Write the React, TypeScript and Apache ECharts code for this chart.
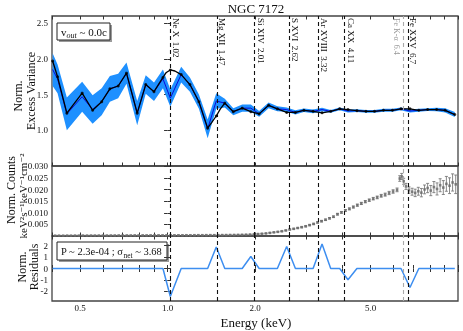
import React, { useEffect, useRef } from "react";
import * as echarts from "echarts";

// ---------------- data ----------------
const binEnergy = [0.402, 0.418, 0.45, 0.508, 0.552, 0.593, 0.633, 0.676, 0.722, 0.786,
  0.841, 0.898, 0.964, 1.022, 1.114, 1.194, 1.282, 1.374, 1.471, 1.574,
  1.684, 1.807, 1.935, 2.067, 2.228, 2.388, 2.571, 2.755, 2.946, 3.17,
  3.403, 3.645, 3.914, 4.18, 4.487, 4.819, 5.159, 5.538, 5.945, 6.363,
  6.834, 7.33, 7.86, 8.44, 9.03, 9.75];
const excessVar = [1.85, 1.72, 1.23, 1.47, 1.29, 1.4, 1.58, 1.62, 1.8, 1.24,
  1.64, 1.54, 1.72, 1.45, 1.78, 1.64, 1.4, 1.02, 1.41, 1.38,
  1.26, 1.31, 1.31, 1.23, 1.35, 1.3, 1.29, 1.25, 1.28, 1.265,
  1.29, 1.265, 1.3, 1.27, 1.275, 1.265, 1.265, 1.28, 1.28, 1.3,
  1.27, 1.28, 1.29, 1.29, 1.28, 1.22];
const excessVarErr = [0.23, 0.2, 0.23, 0.21, 0.2, 0.19, 0.18, 0.17, 0.15, 0.17,
  0.13, 0.13, 0.13, 0.12, 0.11, 0.1, 0.1, 0.13, 0.11, 0.06,
  0.05, 0.05, 0.05, 0.04, 0.04, 0.035, 0.03, 0.03, 0.025, 0.025,
  0.025, 0.02, 0.02, 0.02, 0.02, 0.02, 0.02, 0.02, 0.02, 0.02,
  0.02, 0.02, 0.02, 0.025, 0.03, 0.035];
const modelAtBins = [1.97, 1.75, 1.24, 1.52, 1.28, 1.4, 1.58, 1.62, 1.8, 1.24,
  1.64, 1.54, 1.74, 1.845, 1.78, 1.64, 1.4, 1.03, 1.2, 1.38,
  1.26, 1.31, 1.26, 1.23, 1.35, 1.3, 1.25, 1.25, 1.28, 1.265,
  1.245, 1.265, 1.3, 1.29, 1.275, 1.265, 1.265, 1.28, 1.28, 1.3,
  1.3, 1.28, 1.29, 1.29, 1.28, 1.22];
const modelEnergy = [0.402, 0.418, 0.45, 0.508, 0.552, 0.593, 0.633, 0.676, 0.722, 0.786,
  0.841, 0.898, 0.964, 0.99, 1.022, 1.06, 1.114, 1.194, 1.282, 1.374,
  1.42, 1.471, 1.52, 1.574, 1.684, 1.807, 1.935, 2.067, 2.228, 2.388,
  2.571, 2.755, 2.946, 3.17, 3.403, 3.645, 3.914, 4.18, 4.487, 4.819,
  5.159, 5.538, 5.945, 6.363, 6.834, 7.33, 7.86, 8.44, 9.03, 9.75];
const modelVar = [1.97, 1.75, 1.24, 1.52, 1.28, 1.4, 1.58, 1.62, 1.8, 1.24,
  1.64, 1.54, 1.74, 1.81, 1.845, 1.83, 1.78, 1.64, 1.4, 1.03,
  1.11, 1.2, 1.3, 1.38, 1.26, 1.31, 1.26, 1.23, 1.35, 1.3,
  1.25, 1.25, 1.28, 1.265, 1.245, 1.265, 1.3, 1.29, 1.275, 1.265,
  1.265, 1.28, 1.28, 1.3, 1.3, 1.28, 1.29, 1.29, 1.28, 1.22];
const residuals = [0, 0, 0, 0, 0, 0, 0, 0, 0, 0,
  0, 0, 0, -2.46, 0, 0, 0, 0, 1.88, 0,
  0, 0, 1.05, 0, 0, 0, 1.93, 0, 0, 0,
  2.14, 0, 0, -0.99, 0, 0, 0, 0, 0, 0,
  -1.67, 0, 0, 0, 0, 0];

const specEnergy = [0.41, 0.423, 0.437, 0.451, 0.465, 0.48, 0.495, 0.511, 0.528, 0.545,
  0.562, 0.58, 0.599, 0.618, 0.638, 0.658, 0.679, 0.701, 0.724, 0.747,
  0.771, 0.795, 0.821, 0.847, 0.874, 0.902, 0.931, 0.961, 0.992, 1.024,
  1.056, 1.09, 1.125, 1.161, 1.198, 1.237, 1.276, 1.317, 1.359, 1.403,
  1.448, 1.494, 1.542, 1.591, 1.642, 1.695, 1.749, 1.805, 1.863, 1.923,
  1.984, 2.048, 2.113, 2.181, 2.251, 2.323, 2.397, 2.474, 2.553, 2.635,
  2.719, 2.806, 2.896, 2.989, 3.084, 3.183, 3.285, 3.39, 3.499, 3.611,
  3.726, 3.846, 3.969, 4.096, 4.227, 4.362, 4.502, 4.646, 4.795, 4.948,
  5.107, 5.27, 5.439, 5.613, 5.792, 5.978, 6.169, 6.3, 6.4, 6.5,
  6.62, 6.78, 6.95, 7.12, 7.3, 7.48, 7.67, 7.86, 8.06, 8.26,
  8.47, 8.68, 8.9, 9.12, 9.35, 9.58, 9.82];
const specCounts = [0.00015, 0.00016, 0.00015, 0.00017, 0.00016, 0.00018, 0.00017, 0.00019, 0.00018, 0.0002,
  0.00019, 0.0002, 0.00021, 0.0002, 0.00022, 0.00021, 0.00023, 0.00022, 0.00024, 0.00023,
  0.00025, 0.00024, 0.00026, 0.00025, 0.00027, 0.00026, 0.00028, 0.00027, 0.00029, 0.0003,
  0.00029, 0.00031, 0.0003, 0.00032, 0.00031, 0.00033, 0.00034, 0.00033, 0.00035, 0.00036,
  0.00035, 0.00037, 0.00039, 0.0004, 0.00043, 0.00045, 0.00049, 0.00053, 0.00058, 0.00064,
  0.00072, 0.00084, 0.00098, 0.00112, 0.00135, 0.00158, 0.0018, 0.00205, 0.0024, 0.0028,
  0.0031, 0.00345, 0.0038, 0.0042, 0.0047, 0.0052, 0.00585, 0.0064, 0.007, 0.00765,
  0.0083, 0.0094, 0.0102, 0.011, 0.0117, 0.0125, 0.0133, 0.01405, 0.0148, 0.01545,
  0.0161, 0.01665, 0.01735, 0.01785, 0.01855, 0.0192, 0.0199, 0.0248, 0.0257, 0.0236,
  0.0214, 0.0198, 0.0191, 0.0186, 0.0193, 0.0187, 0.0201, 0.0207, 0.0196, 0.0211,
  0.0203, 0.0219, 0.0209, 0.0225, 0.0217, 0.0231, 0.0223];
const specErr = [0.00006, 0.00006, 0.00006, 0.00006, 0.00006, 0.00006, 0.00006, 0.00006, 0.00006, 0.00006,
  0.00006, 0.00006, 0.00006, 0.00006, 0.00006, 0.00006, 0.00006, 0.00006, 0.00006, 0.00006,
  0.00007, 0.00007, 0.00007, 0.00007, 0.00007, 0.00007, 0.00007, 0.00007, 0.00007, 0.00007,
  0.00007, 0.00007, 0.00007, 0.00007, 0.00007, 0.00007, 0.00007, 0.00007, 0.00007, 0.00007,
  0.00008, 0.00008, 0.00008, 0.00008, 0.00008, 0.00008, 0.00008, 0.00008, 0.00008, 0.00008,
  0.0001, 0.0001, 0.00012, 0.00012, 0.00014, 0.00014, 0.00015, 0.00016, 0.00017, 0.00018,
  0.0002, 0.0002, 0.00022, 0.00024, 0.00025, 0.00026, 0.00028, 0.0003, 0.0003, 0.00032,
  0.00034, 0.00036, 0.00038, 0.0004, 0.00042, 0.00044, 0.00046, 0.00048, 0.0005, 0.00052,
  0.00055, 0.00058, 0.0006, 0.00065, 0.0007, 0.00075, 0.0008, 0.0012, 0.0013, 0.0013,
  0.0013, 0.0014, 0.0015, 0.0016, 0.0017, 0.0018, 0.0019, 0.002, 0.0022, 0.0024,
  0.0026, 0.0028, 0.003, 0.0032, 0.0034, 0.0037, 0.004];

const lineLabels = ["Ne X  1.02", "Mg XII  1.47", "Si XIV  2.01", "S XVI  2.62", "Ar XVIII  3.32", "Ca XX  4.11", "Fe K-α  6.4", "Fe XXV  6.7"];
const lineEnergies = [1.02, 1.47, 2.01, 2.62, 3.32, 4.11, 6.4, 6.7];
const xLabelTicks = [0.5, 1, 2, 5];
const xMinorTicks = [0.4, 0.5, 0.6, 0.7, 0.8, 0.9, 1, 2, 3, 4, 5, 6, 7, 8, 9, 10];
const varTicks = [1.0, 1.5, 2.0, 2.5];
const countTicks = [0.005, 0.01, 0.015, 0.02, 0.025, 0.03];
const residTicks = [-2, -1, 0, 1, 2];

// ---------------- helpers ----------------
const FONT = "'Liberation Serif', 'DejaVu Serif', serif";
const lg = (e: number) => Math.log10(e);
const X_MIN = lg(0.4);
const X_MAX = lg(10);
const FRAME = "#444";

function xAxes(grid: number, showLabels: boolean) {
  const tick = {
    show: true, inside: true, length: 3.5,
    customValues: xMinorTicks.map(lg),
    lineStyle: { color: "#333", width: 1 },
  };
  const base: any = {
    type: "value", gridIndex: grid, min: X_MIN, max: X_MAX,
    splitLine: { show: false }, axisLine: { show: false },
  };
  return [
    {
      ...base, position: "bottom", axisTick: tick,
      axisLabel: {
        show: showLabels, customValues: xLabelTicks.map(lg),
        formatter: (v: number) => Math.pow(10, v).toFixed(1),
        fontFamily: FONT, fontSize: 9, color: "#111", margin: 2,
      },
    },
    { ...base, position: "top", axisTick: tick, axisLabel: { show: false } },
  ];
}

function yAxes(grid: number, min: number, max: number, ticks: number[], fmt: (v: number) => string) {
  const tick = { show: true, inside: true, length: 3.5, customValues: ticks, lineStyle: { color: "#333", width: 1 } };
  const base: any = {
    type: "value", gridIndex: grid, min, max,
    splitLine: { show: false }, axisLine: { show: false },
  };
  return [
    {
      ...base, position: "left", axisTick: tick,
      axisLabel: { customValues: ticks, formatter: fmt, fontFamily: FONT, fontSize: 9, color: "#111", margin: 4 },
    },
    { ...base, position: "right", axisTick: tick, axisLabel: { show: false } },
  ];
}

function vLines() {
  return {
    silent: true,
    symbol: ["none", "none"],
    label: { show: false },
    emphasis: { disabled: true },
    data: lineEnergies.map((e, i) => ({
      xAxis: lg(e),
      lineStyle: { color: i === 6 ? "#aaaaaa" : "#111111", type: [4, 3], width: 1.1 },
    })),
  };
}

export default function App() {
  const ref = useRef<HTMLDivElement>(null);

  useEffect(() => {
    document.body.style.margin = "0";
    const chart = echarts.init(ref.current!, undefined, { renderer: "svg" });

    const gridBase = { left: 52, right: 5, show: true, borderColor: FRAME, borderWidth: 1.3, backgroundColor: "transparent" };

    const option: any = {
      animation: false,
      grid: [
        { ...gridBase, top: 16, height: 150 },
        { ...gridBase, top: 166, height: 70 },
        { ...gridBase, top: 236, height: 65 },
      ],
      xAxis: [...xAxes(0, false), ...xAxes(1, false), ...xAxes(2, true)],
      yAxis: [
        ...yAxes(0, 0.5, 2.6, varTicks, (v) => v.toFixed(1)),
        ...yAxes(1, 0, 0.0302, countTicks, (v) => v.toFixed(3)),
        ...yAxes(2, -2.85, 2.85, residTicks, (v) => String(Math.round(v))),
      ],
      series: [
        {
          type: "custom",
          xAxisIndex: 0, yAxisIndex: 0, z: 1, silent: true, clip: true,
          data: binEnergy.map((e, i) => [lg(e), excessVar[i]]),
          renderItem: (params: any, api: any) => {
            if (params.dataIndex !== 0) return null;
            const pts: number[][] = [];
            for (let i = 0; i < binEnergy.length; i++) pts.push(api.coord([lg(binEnergy[i]), excessVar[i] + excessVarErr[i]]));
            for (let i = binEnergy.length - 1; i >= 0; i--) pts.push(api.coord([lg(binEnergy[i]), excessVar[i] - excessVarErr[i]]));
            return { type: "polygon", shape: { points: pts }, style: { fill: "#1e90ff", stroke: "none" } };
          },
        },
        {
          type: "line", xAxisIndex: 0, yAxisIndex: 0, z: 3, silent: true,
          data: binEnergy.map((e, i) => [lg(e), excessVar[i]]),
          symbol: "none", lineStyle: { color: "#0a0ad8", width: 1 },
          markLine: vLines(),
        },
        {
          type: "line", xAxisIndex: 0, yAxisIndex: 0, z: 4, silent: true,
          data: modelEnergy.map((e, i) => [lg(e), modelVar[i]]),
          symbol: "none", lineStyle: { color: "#000", width: 1.3 },
        },
        {
          type: "scatter", xAxisIndex: 0, yAxisIndex: 0, z: 5, silent: true,
          data: binEnergy.map((e, i) => [lg(e), modelAtBins[i]]),
          symbol: "circle", symbolSize: 3, itemStyle: { color: "#000" },
        },
        {
          type: "custom", xAxisIndex: 2, yAxisIndex: 2, z: 2, silent: true, clip: true,
          data: specEnergy.map((e, i) => [lg(e), specCounts[i], specErr[i]]),
          encode: { x: 0, y: 1 },
          renderItem: (params: any, api: any) => {
            const x = api.value(0), y = api.value(1), er = api.value(2);
            const lo = api.coord([x, y - er]);
            const hi = api.coord([x, y + er]);
            const st = { stroke: "#7a7a7a", lineWidth: 0.9 };
            return {
              type: "group",
              children: [
                { type: "line", shape: { x1: lo[0], y1: lo[1], x2: hi[0], y2: hi[1] }, style: st },
                { type: "line", shape: { x1: lo[0] - 1.5, y1: lo[1], x2: lo[0] + 1.5, y2: lo[1] }, style: st },
                { type: "line", shape: { x1: hi[0] - 1.5, y1: hi[1], x2: hi[0] + 1.5, y2: hi[1] }, style: st },
              ],
            };
          },
        },
        {
          type: "scatter", xAxisIndex: 2, yAxisIndex: 2, z: 3, silent: true,
          data: specEnergy.map((e, i) => [lg(e), specCounts[i]]),
          symbol: "rect", symbolSize: 2.6, itemStyle: { color: "#6a6a6a" },
          markLine: vLines(),
        },
        {
          type: "line", xAxisIndex: 4, yAxisIndex: 4, z: 3, silent: true,
          data: binEnergy.map((e, i) => [lg(e), residuals[i]]),
          symbol: "none", lineStyle: { color: "#3d8ef0", width: 1.5 },
          markLine: vLines(),
        },
      ],
    };

    chart.setOption(option);

    const txt = (x: number, y: number, text: string, extra: any = {}, rot = 0) => ({
      type: "text", x, y, rotation: rot, silent: true,
      style: { text, fontFamily: FONT, fontSize: 11, fill: "#111", align: "center", verticalAlign: "middle", ...extra },
    });

    const graphics: any[] = [
      txt(256, 8, "NGC 7172", { fontSize: 13 }),
      txt(256, 322, "Energy (keV)", { fontSize: 13 }),
      txt(18, 96, "Norm.", { fontSize: 12 }, Math.PI / 2),
      txt(31, 91, "Excess Variance", { fontSize: 12 }, Math.PI / 2),
      txt(11, 190, "Norm. Counts", { fontSize: 12 }, Math.PI / 2),
      txt(23, 196, "keV²s⁻¹keV⁻¹cm⁻²", { fontSize: 11 }, Math.PI / 2),
      txt(22, 267, "Norm.", { fontSize: 12 }, Math.PI / 2),
      txt(34, 267, "Residuals", { fontSize: 12 }, Math.PI / 2),
      // box: v_out
      { type: "rect", silent: true, shape: { x: 59, y: 25, width: 53, height: 17 }, style: { fill: "#9a9a9a" } },
      { type: "rect", silent: true, shape: { x: 57, y: 23, width: 53, height: 17 }, style: { fill: "#fff", stroke: "#222", lineWidth: 1 } },
      {
        type: "text", x: 61, y: 31.5, silent: true,
        style: {
          text: "{n|v}{s|out}{n| ~ 0.0c}", align: "left", verticalAlign: "middle",
          rich: {
            n: { fontFamily: FONT, fontSize: 11, fill: "#111", lineHeight: 16, verticalAlign: "middle" },
            s: { fontFamily: FONT, fontSize: 8, fontStyle: "italic", fill: "#111", lineHeight: 9, verticalAlign: "bottom" },
          },
        },
      },
      // box: P / sigma
      { type: "rect", silent: true, shape: { x: 59, y: 244, width: 110, height: 18 }, style: { fill: "#9a9a9a" } },
      { type: "rect", silent: true, shape: { x: 57, y: 242, width: 110, height: 18 }, style: { fill: "#fff", stroke: "#222", lineWidth: 1 } },
      {
        type: "text", x: 61, y: 251, silent: true,
        style: {
          text: "{n|P ~ 2.3e-04 ; σ}{s|net}{n| ~ 3.68}", align: "left", verticalAlign: "middle",
          rich: {
            n: { fontFamily: FONT, fontSize: 10.5, fill: "#111", lineHeight: 16, verticalAlign: "middle" },
            s: { fontFamily: FONT, fontSize: 7.5, fill: "#111", lineHeight: 9, verticalAlign: "bottom" },
          },
        },
      },
    ];

    lineEnergies.forEach((e, i) => {
      const px = chart.convertToPixel({ xAxisIndex: 0 }, lg(e)) as unknown as number;
      const feK = i === 6;
      graphics.push({
        type: "text", silent: true,
        x: feK ? px - 1 : px + 1, y: 18, rotation: -Math.PI / 2,
        style: {
          text: lineLabels[i], fontFamily: FONT, fontSize: feK ? 8 : 9,
          fill: feK ? "#999" : "#111", align: "left", verticalAlign: feK ? "top" : "bottom",
        },
      });
    });

    chart.setOption({ graphic: graphics });

    return () => chart.dispose();
  }, []);

  return <div ref={ref} style={{ position: "fixed", left: 0, top: 0, width: 463, height: 331 }} />;
}
